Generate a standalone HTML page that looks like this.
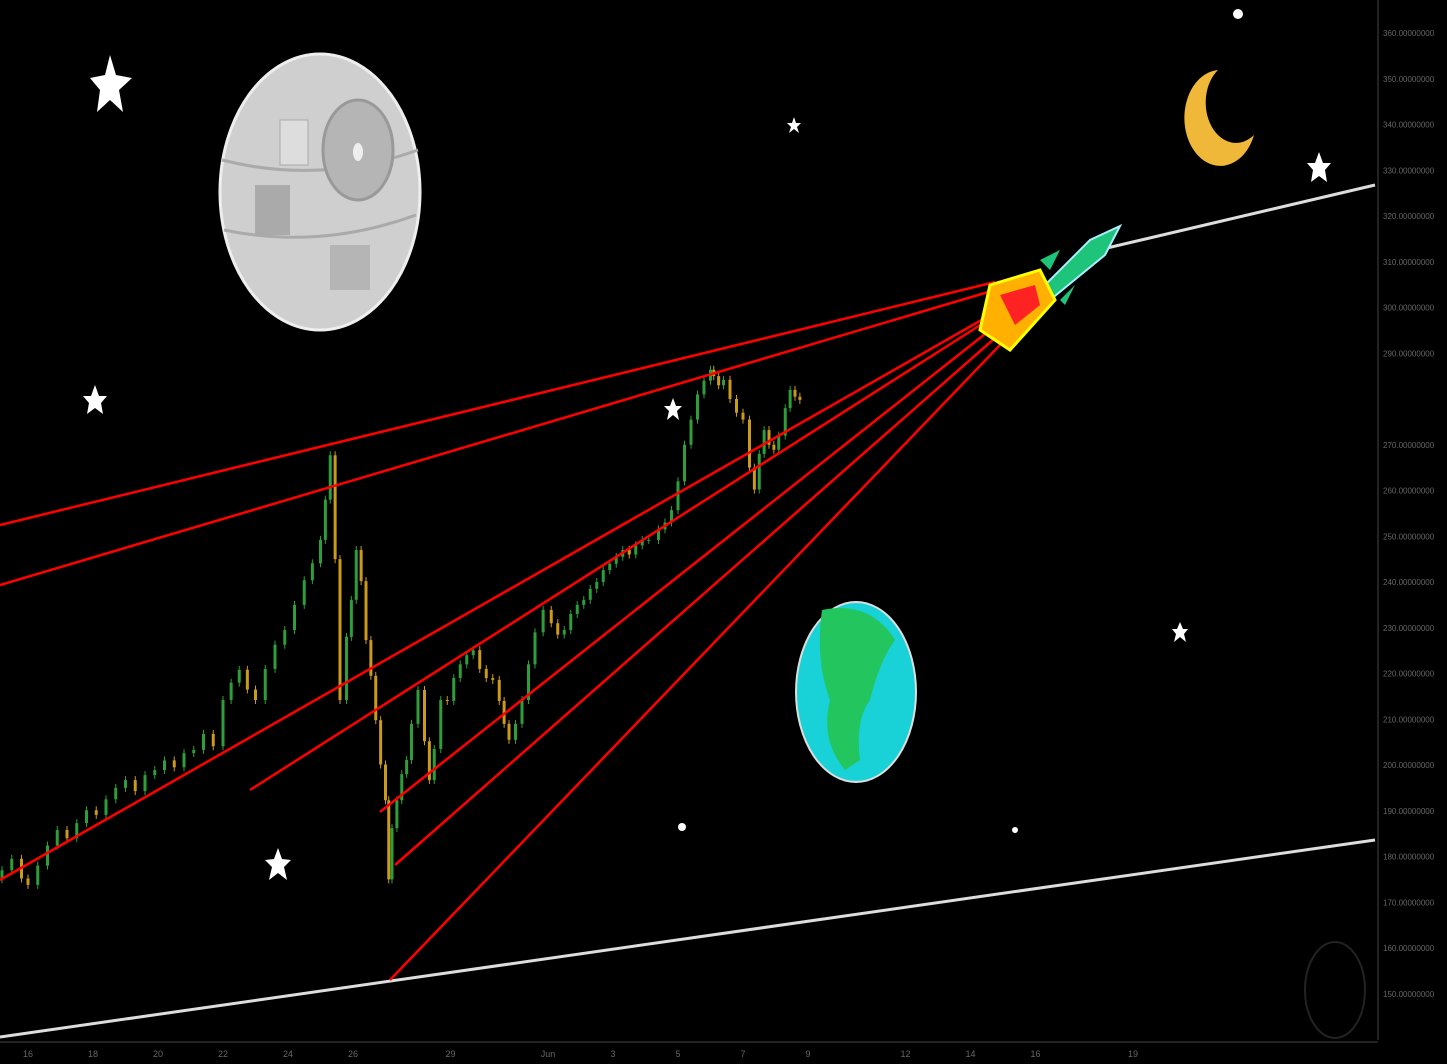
<!DOCTYPE html>
<html><head><meta charset="utf-8"><style>
html,body{margin:0;padding:0;background:#000;overflow:hidden}
svg{display:block}
text{font-family:"Liberation Sans",sans-serif}
</style></head><body>
<svg id="c" width="1447" height="1064">
<rect width="1447" height="1064" fill="#000"/>
<g id="deco">
 <ellipse cx="320" cy="192" rx="100" ry="138" fill="#cfcfcf" stroke="#eee" stroke-width="3"/>
 <path d="M222 160 Q320 185 418 150" stroke="#aaa" stroke-width="3" fill="none"/>
 <path d="M224 230 Q320 250 416 215" stroke="#aaa" stroke-width="3" fill="none"/>
 <ellipse cx="358" cy="150" rx="35" ry="50" fill="#b5b5b5" stroke="#999" stroke-width="3"/>
 <ellipse cx="358" cy="152" rx="5" ry="9" fill="#eee"/>
 <rect x="280" y="120" width="28" height="45" fill="#ddd" stroke="#aaa"/>
 <rect x="255" y="185" width="35" height="50" fill="#aaa"/>
 <rect x="330" y="245" width="40" height="45" fill="#b5b5b5"/>
 <ellipse cx="856" cy="692" rx="60" ry="90" fill="#19d2d8" stroke="#ddd" stroke-width="2"/>
 <path d="M822 610 Q870 600 895 640 Q880 660 870 700 Q855 720 860 760 L845 770 Q820 740 830 700 Q815 660 822 610Z" fill="#22c55e"/>
 <path d="M1218 70 A36 48 0 1 0 1254 135 A30 40 0 0 1 1218 70Z" fill="#f0b838"/>
 <g fill="#fff">
  <polygon points="110,55 116,75 132,78 119,90 123,112 110,100 97,112 100,90 90,78 105,75"/>
  <polygon points="95,385 99,396 107,396 101,403 103,414 95,408 87,414 89,403 83,396 91,396"/>
  <polygon points="673,398 676,406 682,406 677,411 679,420 673,415 667,420 669,411 664,406 670,406"/>
  <polygon points="794,117 796,123 801,123 797,127 799,133 794,129 789,133 791,127 787,123 792,123"/>
  <polygon points="278,848 282,859 291,860 284,867 287,880 278,873 269,880 272,867 265,860 274,859"/>
  <polygon points="1319,152 1323,163 1331,163 1325,170 1327,182 1319,176 1311,182 1313,170 1307,163 1315,163"/>
  <polygon points="1180,622 1183,629 1188,629 1184,634 1186,642 1180,637 1174,642 1176,634 1172,629 1177,629"/>
  <circle cx="1238" cy="14" r="5"/><circle cx="682" cy="827" r="4"/><circle cx="1015" cy="830" r="3"/>
 </g>
 <ellipse cx="1335" cy="990" rx="30" ry="48" fill="none" stroke="#222" stroke-width="2"/>
</g>
<g id="candles"></g>
<g id="lines">
 <line x1="0" y1="1037" x2="1375" y2="840" stroke="#ddd" stroke-width="3"/>
 <line x1="1090" y1="252" x2="1375" y2="185" stroke="#ddd" stroke-width="3"/>
 <g stroke="#f00" stroke-width="2.5">
  <line x1="0" y1="525" x2="995" y2="282"/><line x1="0" y1="585" x2="995" y2="290"/>
  <line x1="0" y1="880" x2="985" y2="318"/><line x1="250" y1="790" x2="985" y2="322"/>
  <line x1="380" y1="812" x2="990" y2="330"/><line x1="395" y1="865" x2="995" y2="338"/>
  <line x1="390" y1="980" x2="1000" y2="345"/>
 </g>
</g>
<g>
 <polygon points="1030,300 1090,240 1120,226 1105,255 1050,300" fill="#1ec47a" stroke="#aef" stroke-width="2"/>
 <polygon points="1040,260 1060,250 1050,270" fill="#1ec47a"/>
 <polygon points="1060,300 1075,285 1065,305" fill="#1ec47a"/>
 <polygon points="990,285 1040,270 1055,300 1010,350 980,330" fill="#ffb000" stroke="#ff0" stroke-width="3"/>
 <polygon points="1000,295 1035,285 1040,305 1015,325" fill="#f22"/>
</g>
<line x1="1378" y1="0" x2="1378" y2="1040" stroke="#444" stroke-width="1"/>
<line x1="0" y1="1042" x2="1378" y2="1042" stroke="#444" stroke-width="1"/>
<g id="yaxis"></g>
<g id="xaxis"></g>
</svg>
<script>
const days=[15.2,15.5,15.8,16.0,16.3,16.6,16.9,17.2,17.5,17.8,18.1,18.4,18.7,19.0,19.3,19.6,19.9,20.2,20.5,20.8,21.1,21.4,21.7,22.0,22.25,22.5,22.75,23.0,23.3,23.6,23.9,24.2,24.5,24.75,25.0,25.15,25.3,25.45,25.6,25.8,25.95,26.1,26.25,26.4,26.55,26.7,26.85,27.0,27.1,27.2,27.35,27.5,27.65,27.8,28.0,28.2,28.35,28.5,28.7,28.9,29.1,29.3,29.5,29.7,29.9,30.1,30.3,30.5,30.65,30.8,31.0,31.2,31.4,31.6,31.85,32.1,32.3,32.5,32.7,32.9,33.1,33.3,33.5,33.7,33.9,34.1,34.3,34.5,34.7,34.9,35.1,35.4,35.6,35.8,36.0,36.2,36.4,36.6,36.8,37.0,37.1,37.25,37.4,37.6,37.8,38.0,38.2,38.35,38.5,38.65,38.8,38.95,39.1,39.3,39.45,39.6,39.75,39.9];
const closes=[177.0,179.5,175.2,173.8,178.0,182.4,185.8,184.0,187.3,190.1,189.1,192.5,195.0,196.7,194.3,197.8,198.9,201.0,199.5,202.6,203.3,206.8,204.1,
214.2,218.0,220.8,216.5,214.2,221.0,226.3,229.5,235.0,240.4,244.1,249.2,258.0,267.7,245.0,214.2,228.0,236.1,247.0,240.2,227.3,219.5,209.8,200.1,192.3,175.0,
186.2,192.3,198.0,201.1,209.0,216.4,205.2,196.7,203.5,214.2,
214.0,219.0,222.0,224.0,225.1,221.0,219.0,218.6,214.0,209.0,205.5,209.0,214.2,222.0,229.0,
233.9,231.0,228.5,229.5,233.0,235.0,236.1,238.5,240.0,242.6,244.0,245.5,247.0,246.0,248.0,249.2,249.2,251.5,253.0,255.7,262.0,270.0,275.5,281.0,284.0,286.4,285.0,283.0,284.2,280.0,277.0,275.5,265.0,260.2,268.0,273.2,270.0,268.9,272.0,278.0,282.0,280.5,279.8];
const yTicks=[360,350,340,330,320,310,300,290,270,260,250,240,230,220,210,200,190,180,170,160,150];
const xTickDays=[16,18,20,22,24,26,29,32,34,36,38,40,43,45,47,50];
const xTickLabels=["16","18","20","22","24","26","29","Jun","3","5","7","9","12","14","16","19"];
const NS="http://www.w3.org/2000/svg";
const X=d=>28+(d-16)*32.5;
const Y=v=>1680-v*4.575;
function mk(t,a,p){const e=document.createElementNS(NS,t);for(const k in a)e.setAttribute(k,a[k]);p.appendChild(e);return e;}
const cg=document.getElementById('candles');
const n=Math.min(days.length,closes.length);
for(let i=0;i<n;i++){
 const o=i?closes[i-1]:closes[i]-2,c=closes[i];
 const col=c>=o?'#2e9e3a':'#c99a1c';
 const x=X(days[i]);
 const w=mk('line',{x1:x,x2:x,y1:Y(Math.max(o,c))-4,y2:Y(Math.min(o,c))+4,stroke:col,'stroke-width':1},cg);
 
 
 const r=mk('rect',{x:x-1.5,y:Y(Math.max(o,c)),width:3,height:Math.max(1,Math.abs(Y(o)-Y(c))),fill:col},cg);
 
 
}
const ya=document.getElementById('yaxis');
yTicks.forEach(v=>{
 const t=mk('text',{x:1383,y:Y(v)+3,fill:'#666','font-size':8},ya);
 t.textContent=v.toFixed(0)+'.00000000';
 
 
});
const xa=document.getElementById('xaxis');
xTickDays.forEach((d,i)=>{
 const t=mk('text',{x:X(d),y:1057,fill:'#666','font-size':9,'text-anchor':'middle'},xa);
 t.textContent=xTickLabels[i];
 
 
});
</script>
</body></html>
